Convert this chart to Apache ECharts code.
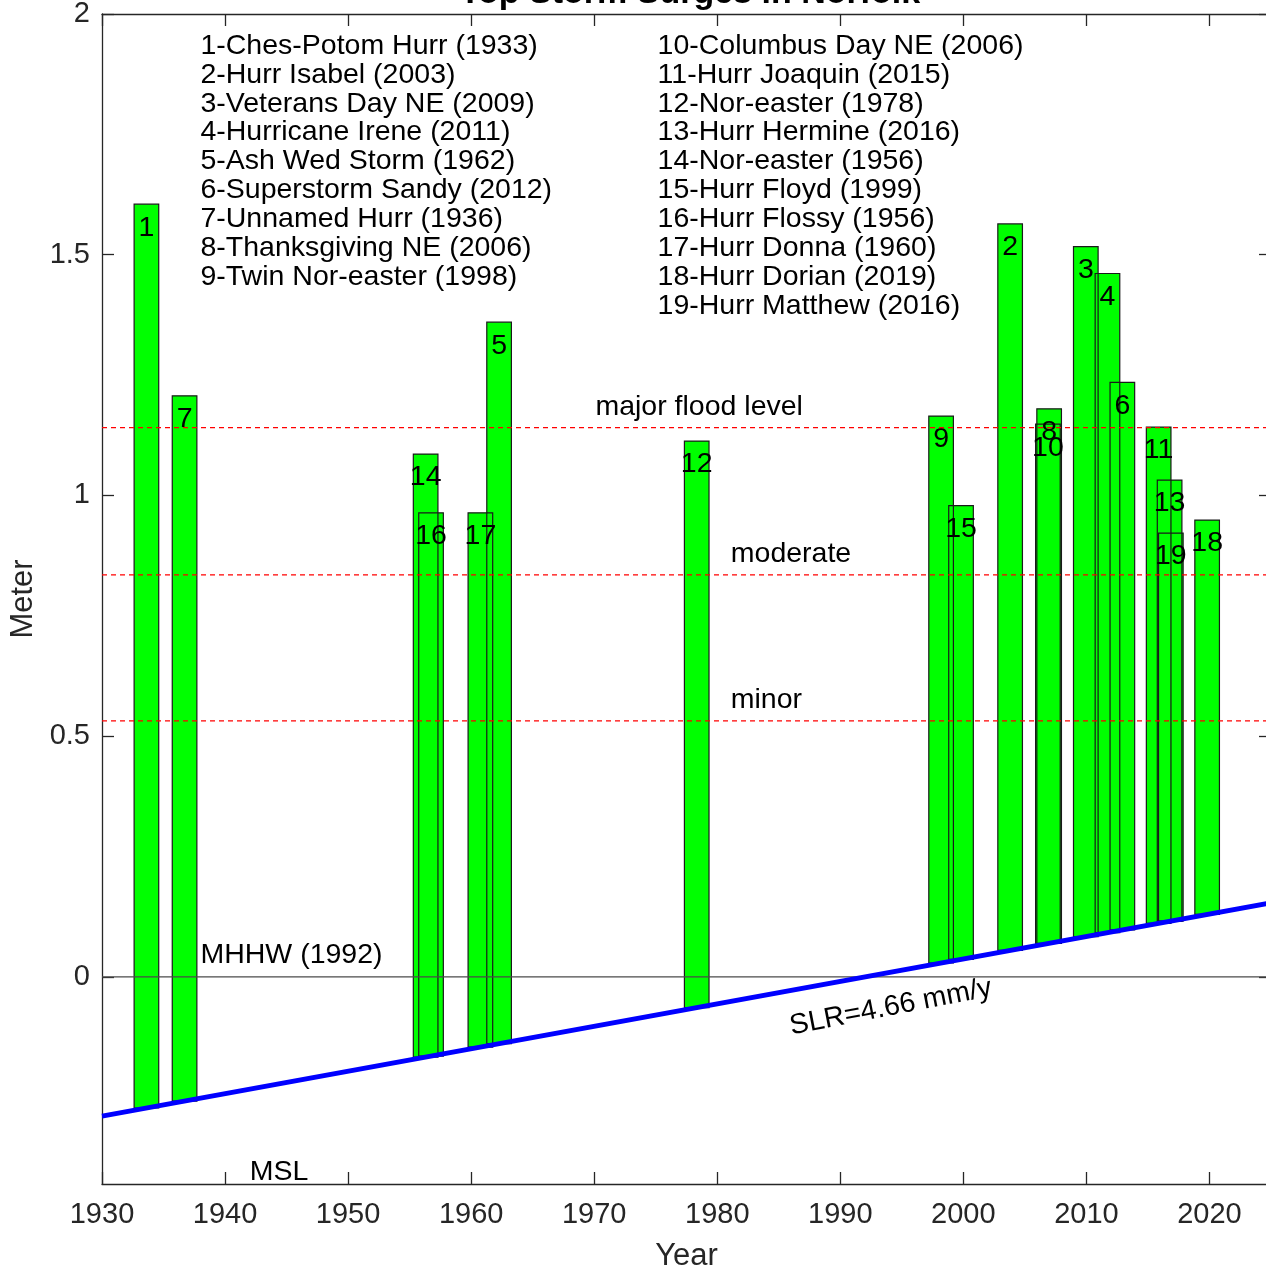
<!DOCTYPE html>
<html>
<head>
<meta charset="utf-8">
<script src="https://cdn.jsdelivr.net/npm/echarts@6/dist/echarts.min.js"></script>
<style>
html,body{margin:0;padding:0;background:#ffffff;}
#chart{width:1266px;height:1268px;}
</style>
</head>
<body>
<div id="chart"></div>
<script>
// ---------------- data ----------------
const ranks = [1,2,3,4,5,6,7,8,9,10,11,12,13,14,15,16,17,18,19];
const stormNames = [
  'Ches-Potom Hurr','Hurr Isabel','Veterans Day NE','Hurricane Irene','Ash Wed Storm',
  'Superstorm Sandy','Unnamed Hurr','Thanksgiving NE','Twin Nor-easter','Columbus Day NE',
  'Hurr Joaquin','Nor-easter','Hurr Hermine','Nor-easter','Hurr Floyd',
  'Hurr Flossy','Hurr Donna','Hurr Dorian','Hurr Matthew'
];
const stormYears = [1933,2003,2009,2011,1962,2012,1936,2006,1998,2006,2015,1978,2016,1956,1999,1956,1960,2019,2016];
// decimal event dates (bar centres)
const stormDates = [1933.61,2003.80,2009.95,2011.71,1962.27,2012.92,1936.71,2006.97,1998.19,2006.87,
                    2015.87,1978.33,2016.76,1956.30,1999.81,1956.74,1960.75,2019.81,2016.86];
// peak water level, metres above MHHW (1992)
const surgeTops = [1.605,1.564,1.517,1.461,1.360,1.235,1.207,1.180,1.165,1.148,
                   1.142,1.113,1.032,1.086,0.979,0.964,0.964,0.949,0.922];
// sea level rise trend line end points
const slrYears = [1930, 2025];
const slrLevels = [-0.289, 0.154];
const slrLabel = 'SLR=4.66 mm/y';
// flood thresholds
const floodLevels = [1.141, 0.835, 0.532];
const floodNames = ['major flood level', 'moderate', 'minor'];
const mhhwLevel = 0;
const mhhwLabel = 'MHHW (1992)';
const mslLabel = 'MSL';
// axes
const xTicks = [1930,1940,1950,1960,1970,1980,1990,2000,2010,2020];
const yTicks = [0,0.5,1,1.5,2];
const xRange = [1930, 2025];
const yRange = [-0.43, 2];
const titleText = 'Top Storm Surges in Norfolk';
const xName = 'Year';
const yName = 'Meter';

// ---------------- helpers ----------------
const FONT = '"Liberation Sans", Arial, Helvetica, sans-serif';
const AX = '#262626';
const BAR_HALF = 1; // half bar width in years
const TXT = 28.5;
const INK = 2.5;    // push text down so glyph centres sit on the anchor

function slrAt(t) {
  return slrLevels[0] + (t - slrYears[0]) * (slrLevels[1] - slrLevels[0]) / (slrYears[1] - slrYears[0]);
}
const barData = ranks.map((r, i) => [stormDates[i], surgeTops[i], slrAt(stormDates[i]), r]);

function barRect(api) {
  const x = api.value(0), top = api.value(1), base = api.value(2);
  const p1 = api.coord([x - BAR_HALF, top]);
  const p2 = api.coord([x + BAR_HALF, base]);
  return {x: p1[0], y: p1[1], width: p2[0] - p1[0], height: p2[1] - p1[1]};
}

const chart = echarts.init(document.getElementById('chart'), null, {renderer: 'canvas'});

const axisCommon = {
  type: 'value',
  axisLine: {show: true, onZero: false, lineStyle: {color: AX, width: 1.3}},
  splitLine: {show: false},
};

const option = {
  animation: false,
  backgroundColor: '#ffffff',
  grid: {left: 102, top: 14, right: -5, bottom: 84, containLabel: false, outerBoundsMode: 'none'},
  xAxis: [
    Object.assign({}, axisCommon, {
      min: xRange[0], max: xRange[1], position: 'bottom',
      axisTick: {show: true, inside: true, length: 12, customValues: xTicks, lineStyle: {color: AX, width: 1.3}},
      axisLabel: {show: true, customValues: xTicks, margin: 16, fontSize: 29, fontFamily: FONT, color: AX,
                  formatter: v => String(v)},
      name: xName, nameLocation: 'middle', nameGap: 57,
      nameTextStyle: {fontSize: 31, fontFamily: FONT, color: AX}
    }),
    Object.assign({}, axisCommon, {
      min: xRange[0], max: xRange[1], position: 'top',
      axisTick: {show: true, inside: true, length: 12, customValues: xTicks, lineStyle: {color: AX, width: 1.3}},
      axisLabel: {show: false}
    })
  ],
  yAxis: [
    Object.assign({}, axisCommon, {
      min: yRange[0], max: yRange[1], position: 'left',
      axisTick: {show: true, inside: true, length: 12, customValues: yTicks, lineStyle: {color: AX, width: 1.3}},
      axisLabel: {show: true, customValues: yTicks, margin: 12, fontSize: 29, fontFamily: FONT, color: AX,
                  padding: [5, 0, 0, 0], formatter: v => String(v)},
      name: yName, nameLocation: 'middle', nameGap: 62,
      nameTextStyle: {fontSize: 31, fontFamily: FONT, color: AX}
    }),
    Object.assign({}, axisCommon, {
      min: yRange[0], max: yRange[1], position: 'right',
      axisTick: {show: true, inside: true, length: 12, customValues: yTicks, lineStyle: {color: AX, width: 1.3}},
      axisLabel: {show: false}
    })
  ],
  series: [
    {
      type: 'custom', name: 'fill', data: barData, clip: true,
      renderItem: (params, api) => ({type: 'rect', shape: barRect(api), style: {fill: '#00ff00', stroke: null}})
    },
    {
      type: 'custom', name: 'edge', data: barData, clip: true,
      renderItem: (params, api) => ({type: 'rect', shape: barRect(api), style: {fill: 'none', stroke: '#1a1a1a', lineWidth: 1.2}})
    },
    {
      type: 'custom', name: 'rank', data: barData, clip: true,
      renderItem: (params, api) => {
        const p = api.coord([api.value(0), api.value(1)]);
        return {type: 'text', x: p[0], y: p[1] + 21 + INK,
          style: {text: String(api.value(3)), font: TXT + 'px ' + FONT, fill: '#000000', align: 'center', verticalAlign: 'middle'}};
      }
    },
    {
      type: 'line', name: 'MHHW', data: [[xRange[0], mhhwLevel], [xRange[1], mhhwLevel]],
      symbol: 'none', lineStyle: {color: '#4a4a4a', width: 1.2}
    }
  ].concat(floodLevels.map((lv, i) => ({
      type: 'line', name: floodNames[i], data: [[xRange[0], lv], [xRange[1], lv]],
      symbol: 'none', lineStyle: {color: '#ff0000', width: 1.2, type: [5, 4]}
  }))).concat([
    {
      type: 'line', name: 'SLR', data: [[slrYears[0], slrLevels[0]], [slrYears[1], slrLevels[1]]],
      symbol: 'none', lineStyle: {color: '#0000ff', width: 5}
    }
  ])
};
chart.setOption(option);

// ---------------- text annotations (placed through the axes) ----------------
function px(x, y) { return chart.convertToPixel({xAxisIndex: 0, yAxisIndex: 0}, [x, y]); }
const legendLines1 = ranks.slice(0, 9).map(i => i + '-' + stormNames[i - 1] + ' (' + stormYears[i - 1] + ')');
const legendLines2 = ranks.slice(9).map(i => i + '-' + stormNames[i - 1] + ' (' + stormYears[i - 1] + ')');

function txt(pos, text, extra, dy) {
  return {
    type: 'text', x: pos[0], y: pos[1] + (dy === undefined ? INK : dy), z: 100,
    style: Object.assign({text: text, font: TXT + 'px ' + FONT, fill: '#000000', align: 'left', verticalAlign: 'middle'}, extra || {})
  };
}
const l1 = px(1938.0, 1.939), l2 = px(1975.15, 1.939);
const slrPos = px(1994.1, -0.063);
const graphics = [
  txt(l1, legendLines1.join('\n'), {lineHeight: 28.9, verticalAlign: 'top'}, -14.45 + INK),
  txt(l2, legendLines2.join('\n'), {lineHeight: 28.9, verticalAlign: 'top'}, -14.45 + INK),
  txt(px(1970.1, 1.189), floodNames[0]),
  txt(px(1981.1, 0.883), floodNames[1]),
  txt(px(1981.1, 0.580), floodNames[2]),
  txt(px(1938.0, 0.050), mhhwLabel),
  txt(px(1942.0, -0.400), mslLabel),
  Object.assign(txt(slrPos, slrLabel, {align: 'center'}, 0), {rotation: 11 * Math.PI / 180}),
  {type: 'text', x: 690, y: 11, z: 100,
   style: {text: titleText, font: 'bold 34px ' + FONT, fill: '#000000', align: 'center', verticalAlign: 'bottom'}}
];
chart.setOption({graphic: graphics});
</script>
</body>
</html>
